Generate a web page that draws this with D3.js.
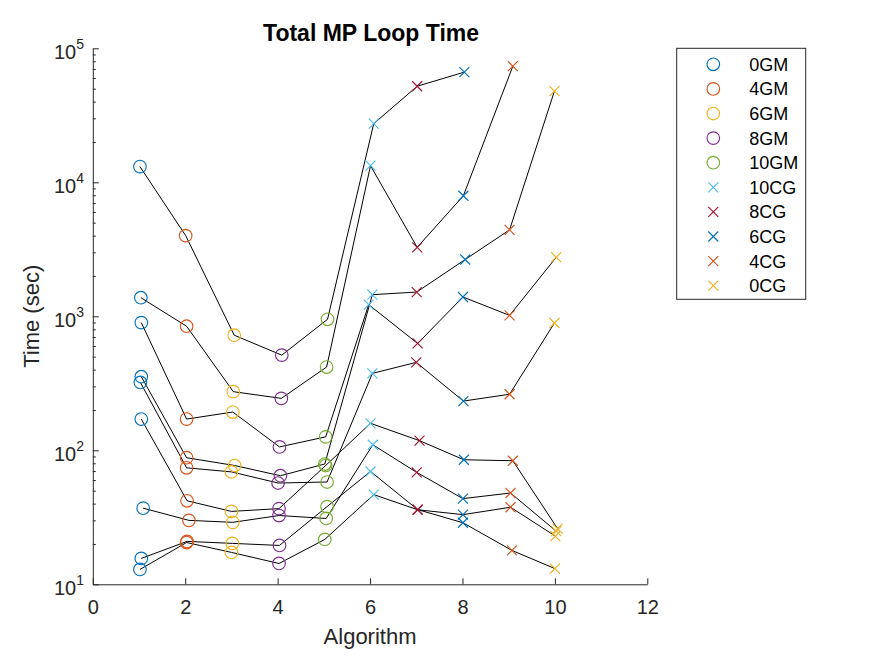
<!DOCTYPE html>
<html>
<head>
<meta charset="utf-8">
<script src="https://cdn.jsdelivr.net/npm/d3@7"></script>
<style>
  body { margin: 0; background: #fff; }
  svg { display: block; font-family: "Liberation Sans", Arial, Helvetica, sans-serif; }
</style>
</head>
<body>
<svg id="chart" width="875" height="656"></svg>
<script>
// legend entries, one per algorithm 1..10
const categories = ["0GM", "4GM", "6GM", "8GM", "10GM", "10CG", "8CG", "6CG", "4CG", "0CG"];
const markerColors = ["#0072BD", "#D95319", "#EDB120", "#7E2F8E", "#77AC30",
                      "#4DBEEE", "#A2142F", "#0072BD", "#D95319", "#EDB120"];

// each run: algorithm position (slightly offset in the original) and loop time in sec
const runAlgX = [
    [1.02, 2.01, 3.06, 4.09, 5.08, 6.08, 7.02, 8.04],
    [1.04, 2.03, 3.04, 4.08, 5.06, 6.01, 7.02, 8.02, 9.09],
    [1.05, 2.03, 3.03, 4.04, 5.04, 5.97, 7.03, 8.01, 9.02, 10.03],
    [1.05, 2.03, 3.07, 4.06, 5.02, 6.05, 7.01, 8.06, 9.02, 9.99],
    [1.03, 2.03, 3.00, 4.01, 5.07, 6.05, 7.00, 8.02, 9.02, 9.99],
    [1.05, 2.04, 3.00, 4.03, 5.04, 6.01, 7.07, 8.03, 9.09, 10.06],
    [1.09, 2.08, 3.03, 4.03, 5.05, 6.06, 7.01, 8.01, 9.04, 10.03],
    [1.05, 2.04, 3.02, 4.04, 5.07, 6.01, 7.03, 8.01, 9.07, 10.00],
    [1.02, 2.03, 3.00, 4.03, 5.02, 6.08, 7.03, 8.01, 9.04, 10.01]
];
const runTimes = [
    [13100, 4000, 723, 513, 950, 27400, 52100, 66400],
    [1377, 843, 274, 244, 418, 13300, 3270, 7940, 73500],
    [897, 171, 193, 106, 126, 1222, 627, 1393, 1016, 2760],
    [354, 88, 77, 64.6, 79, 1450, 1517, 2655, 4420, 47900],
    [321, 74, 69, 57, 58, 375, 453, 233, 262, 891],
    [171, 42, 35, 36.7, 77, 159, 118, 85, 83.6, 26],
    [37, 30, 29, 32.6, 31, 110, 68.4, 43.6, 48, 24.9],
    [15.6, 20.9, 20.2, 19.5, 38, 69.5, 36.1, 28.8, 17.9, 13.1],
    [12.9, 20.5, 17.3, 14.3, 21.6, 46.7, 36, 33.1, 37.6, 22.9]
];

const xTicks = [0, 2, 4, 6, 8, 10, 12];
const yExponents = [1, 2, 3, 4, 5];

const svg = d3.select("#chart");
const axisColor = "#262626";

const x = d3.scaleLinear().domain([0, 12]).range([92.8, 647.3]);
const y = d3.scaleLog().domain([10, 1e5]).range([584.3, 48.3]);

// minor ticks 2..9 for each decade
let minorTicks = [];
yExponents.slice(0, -1).forEach((e) => {
    for (let k = 2; k <= 9; k++) minorTicks.push(k * Math.pow(10, e));
});

// === AXES ===
const gx = svg.append("g")
    .attr("transform", "translate(0," + y(10) + ")")
    .call(d3.axisBottom(x).tickValues(xTicks).tickSizeInner(-6).tickSizeOuter(0).tickPadding(15.5));
gx.selectAll("text").attr("font-size", 20).attr("fill", axisColor)
    .attr("font-family", "Liberation Sans, Arial, sans-serif");

const gy = svg.append("g")
    .attr("transform", "translate(" + x(0) + ",0)")
    .call(d3.axisLeft(y).tickValues(yExponents.map((e) => Math.pow(10, e)))
        .tickSizeInner(-6).tickSizeOuter(0).tickFormat(""));
svg.append("g")
    .attr("transform", "translate(" + x(0) + ",0)")
    .call(d3.axisLeft(y).tickValues(minorTicks).tickSizeInner(-3).tickSizeOuter(0).tickFormat(""))
    .select(".domain").remove();

svg.selectAll(".domain, .tick line").attr("stroke", axisColor).attr("stroke-width", 1);

// log tick labels as 10^n
yExponents.forEach((e) => {
    const t = svg.append("text")
        .attr("x", 84)
        .attr("y", y(Math.pow(10, e)) + 10.5)
        .attr("text-anchor", "end")
        .attr("fill", axisColor);
    t.append("tspan").attr("font-size", 20).text("10");
    t.append("tspan").attr("font-size", 14).attr("dy", -10).text(e);
});

// labels and title
svg.append("text")
    .attr("x", (x(0) + x(12)) / 2)
    .attr("y", 644)
    .attr("text-anchor", "middle")
    .attr("font-size", 22)
    .attr("fill", axisColor)
    .text("Algorithm");

svg.append("text")
    .attr("transform", "translate(38.5," + (y(10) + y(1e5)) / 2 + ") rotate(-90)")
    .attr("text-anchor", "middle")
    .attr("font-size", 22)
    .attr("fill", axisColor)
    .text("Time (sec)");

svg.append("text")
    .attr("x", (x(0) + x(12)) / 2 + 1)
    .attr("y", 40.7)
    .attr("text-anchor", "middle")
    .attr("font-size", 23)
    .attr("font-weight", "bold")
    .attr("fill", "#000")
    .text("Total MP Loop Time");

// === RUN LINES ===
const runs = runTimes.map((times, i) =>
    times.map((t, j) => ({ x: runAlgX[i][j], t: t, cat: Math.round(runAlgX[i][j]) - 1 }))
);

const line = d3.line().x((d) => x(d.x)).y((d) => y(d.t));

svg.append("g").selectAll("path.run")
    .data(runs)
    .enter()
    .append("path")
    .attr("class", "run")
    .attr("d", line)
    .attr("fill", "none")
    .attr("stroke", "#000")
    .attr("stroke-width", 1);

// === MARKERS ===
function drawMarker(sel, cat) {
    if (cat < 5) {
        sel.append("circle")
            .attr("r", 6.3)
            .attr("fill", "none")
            .attr("stroke", markerColors[cat])
            .attr("stroke-width", 1.15);
    } else {
        sel.append("path")
            .attr("d", "M-5,-5L5,5M-5,5L5,-5")
            .attr("fill", "none")
            .attr("stroke", markerColors[cat])
            .attr("stroke-width", 1.15);
    }
}

const allPoints = runs.flat();
svg.append("g").selectAll("g.mark")
    .data(allPoints)
    .enter()
    .append("g")
    .attr("class", "mark")
    .attr("transform", (d) => "translate(" + x(d.x) + "," + y(d.t) + ")")
    .each(function (d) { drawMarker(d3.select(this), d.cat); });

// === LEGEND ===
const legend = svg.append("g");
legend.append("rect")
    .attr("x", 676.7).attr("y", 48.3)
    .attr("width", 129).attr("height", 251)
    .attr("fill", "#fff")
    .attr("stroke", axisColor)
    .attr("stroke-width", 1);

categories.forEach((name, i) => {
    const cy = 64.3 + i * 24.6;
    const m = legend.append("g").attr("transform", "translate(713.3," + cy + ")");
    drawMarker(m, i);
    legend.append("text")
        .attr("x", 749.3)
        .attr("y", cy + 6.5)
        .attr("font-size", 18)
        .attr("fill", "#000")
        .text(name);
});
</script>
</body>
</html>
